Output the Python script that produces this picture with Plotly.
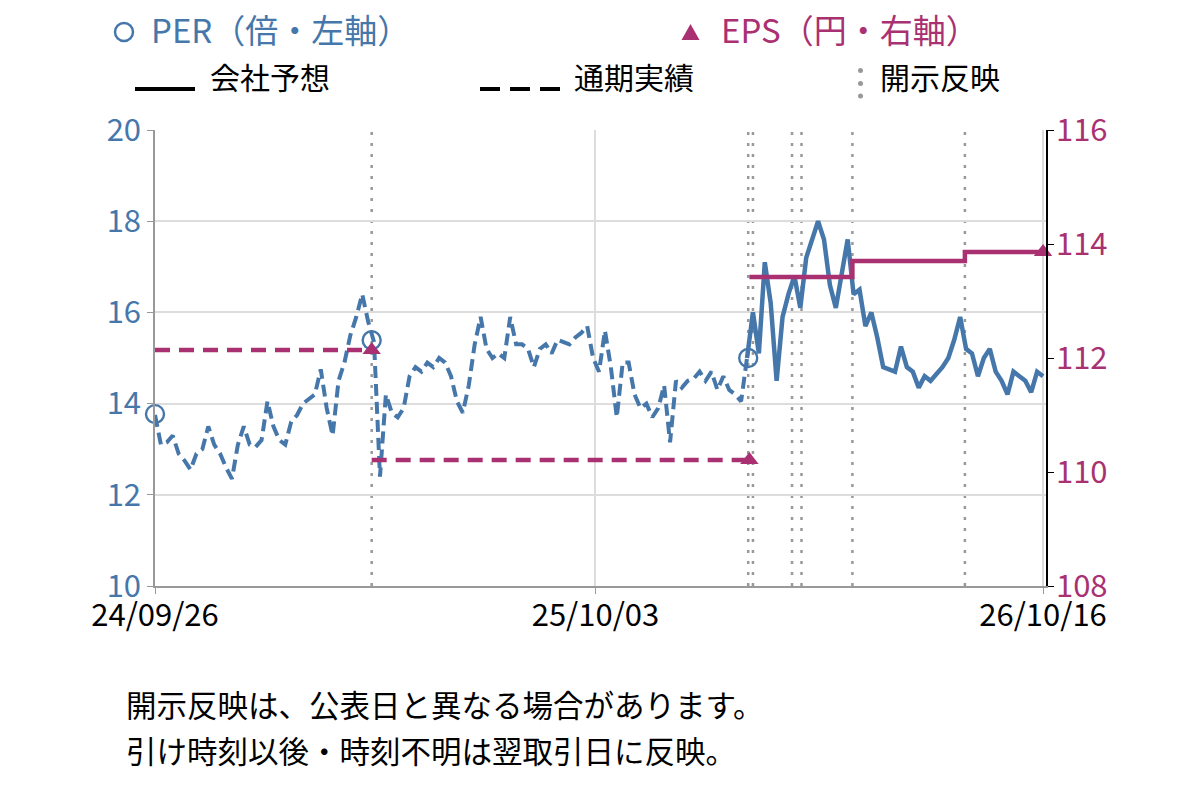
import plotly.graph_objects as go
import pandas as pd

# ---------------- data ----------------
START = "2024-09-26"
END = "2026-10-16"
per_dates = pd.date_range(START, END, freq="5D")
per_values = [
    13.75, 13.1, 13.15, 13.3, 12.9, 12.75, 12.55, 12.9, 13.0, 13.5,
    13.1, 12.9, 12.6, 12.35, 13.1, 13.5, 13.1, 13.05, 13.2, 14.05,
    13.5, 13.2, 13.1, 13.6, 13.75, 14.0, 14.1, 14.2, 14.75, 13.9,
    13.3, 14.5, 14.9, 15.5, 15.9, 16.4, 15.8, 15.35, 12.4, 14.2,
    13.8, 13.7, 13.9, 14.6, 14.8, 14.7, 14.9, 14.8, 15.0, 14.9,
    14.6, 14.05, 13.8, 14.4, 15.3, 15.9, 15.2, 15.0, 15.1, 15.0,
    15.9, 15.3, 15.3, 15.2, 14.8, 15.2, 15.3, 15.1, 15.4, 15.35,
    15.3, 15.45, 15.55, 15.7, 15.0, 14.7, 15.6, 14.8, 13.7, 14.9,
    14.9, 14.2, 13.9, 14.0, 13.7, 13.9, 14.4, 13.15, 14.5, 14.35,
    14.5, 14.55, 14.7, 14.5, 14.7, 14.3, 14.6, 14.3, 14.2, 14.05,
    15.0, 16.0, 15.1, 17.1, 16.2, 14.5, 15.9, 16.4, 16.8, 16.1,
    17.2, 17.6, 18.0, 17.6, 16.6, 16.1, 16.9, 17.6, 16.4, 16.5,
    15.7, 16.0, 15.45, 14.8, 14.75, 14.7, 15.25, 14.8, 14.7, 14.35,
    14.6, 14.5, 14.65, 14.8, 15.0, 15.4, 15.9, 15.2, 15.1, 14.6,
    15.0, 15.2, 14.7, 14.5, 14.2, 14.7, 14.6, 14.5, 14.25, 14.7,
    14.6,
]
SPLIT = 100  # PER based on actual EPS up to here (dashed), forecast after (solid)

eps_actual1_x = ["2024-09-26", "2025-03-28"]
eps_actual1_y = [112.14, 112.14]
eps_actual2_x = ["2025-03-28", "2026-02-10"]
eps_actual2_y = [110.21, 110.21]
eps_fcst_x = ["2026-02-10", "2026-05-08", "2026-08-11", "2026-10-16"]
eps_fcst_y = [113.42, 113.70, 113.86, 113.86]
eps_mark_x = ["2025-03-28", "2026-02-10", "2026-10-16"]
eps_mark_y = [112.14, 110.21, 113.86]
per_mark_x = ["2024-09-26", "2025-03-28", "2026-02-09"]
per_mark_y = [13.77, 15.39, 15.0]
disclosure_dates = ["2025-03-28", "2026-02-09", "2026-02-13", "2026-03-18",
                    "2026-03-26", "2026-05-08", "2026-08-11"]
xtick_vals = ["2024-09-26", "2025-10-03", "2026-10-16"]
xtick_text = ["24/09/26", "25/10/03", "26/10/16"]
X_END = "2026-10-18 12:00"

BLUE = "#4677AA"
MAG = "#A93172"
FONT = "Noto Sans CJK JP"

# ---------------- layout geometry ----------------
L, R, T, B = 155, 1046, 130, 586
W, H = 1200, 800


def px(x):
    return (x - L) / (R - L)


def py(y):
    return (B - y) / (B - T)


fig = go.Figure()

# PER line
fig.add_trace(go.Scatter(x=per_dates[:SPLIT + 1], y=per_values[:SPLIT + 1], mode="lines",
                         line=dict(color=BLUE, width=4, dash="12px,6px"),
                         showlegend=False, hoverinfo="skip"))
fig.add_trace(go.Scatter(x=per_dates[SPLIT:], y=per_values[SPLIT:], mode="lines",
                         line=dict(color=BLUE, width=4.5),
                         showlegend=False, hoverinfo="skip"))
fig.add_trace(go.Scatter(x=per_mark_x, y=per_mark_y, mode="markers",
                         marker=dict(symbol="circle-open", size=18, color=BLUE,
                                     line=dict(width=2.4, color=BLUE)),
                         cliponaxis=False, showlegend=False))

# EPS lines
fig.add_trace(go.Scatter(x=eps_actual1_x, y=eps_actual1_y, mode="lines", yaxis="y2",
                         line=dict(color=MAG, width=4.5, dash="15px,9px"), showlegend=False))
fig.add_trace(go.Scatter(x=eps_actual2_x, y=eps_actual2_y, mode="lines", yaxis="y2",
                         line=dict(color=MAG, width=4.5, dash="15px,9px"), showlegend=False))
fig.add_trace(go.Scatter(x=eps_fcst_x, y=eps_fcst_y, mode="lines", yaxis="y2",
                         line=dict(color=MAG, width=4.5, shape="hv"), showlegend=False))
fig.add_trace(go.Scatter(x=eps_mark_x, y=eps_mark_y, mode="markers", yaxis="y2",
                         marker=dict(symbol="triangle-up", size=16, color=MAG),
                         cliponaxis=False, showlegend=False))

shapes = []
for d in disclosure_dates:
    shapes.append(dict(type="line", xref="x", yref="paper", x0=d, x1=d, y0=0, y1=1,
                       line=dict(color="#999999", width=2.5, dash="3px,8px"), layer="below"))

# legend graphics
shapes.append(dict(type="circle", xref="paper", yref="paper",
                   x0=px(115), x1=px(133), y0=py(41), y1=py(23),
                   line=dict(color=BLUE, width=2.5)))
shapes.append(dict(type="path", xref="paper", yref="paper",
                   path=f"M {px(690.5)} {py(24)} L {px(699.5)} {py(40)} L {px(681.5)} {py(40)} Z",
                   fillcolor=MAG, line=dict(width=0)))
shapes.append(dict(type="line", xref="paper", yref="paper",
                   x0=px(135), x1=px(195), y0=py(89), y1=py(89),
                   line=dict(color="black", width=4)))
shapes.append(dict(type="line", xref="paper", yref="paper",
                   x0=px(480), x1=px(560), y0=py(89), y1=py(89),
                   line=dict(color="black", width=4, dash="20px,10px")))
for yy in [70.5, 83.5, 96]:
    shapes.append(dict(type="circle", xref="paper", yref="paper",
                       x0=px(858), x1=px(863), y0=py(yy + 2.5), y1=py(yy - 2.5),
                       fillcolor="#999999", line=dict(width=0)))

annotations = []


def txt(x, y, s, color="black", size=30):
    annotations.append(dict(xref="paper", yref="paper", x=px(x), y=py(y), text=s,
                            showarrow=False, xanchor="left", yanchor="middle",
                            font=dict(family=FONT, size=size, color=color)))


txt(149, 29, "PER（倍・左軸）", BLUE, 33)
txt(719, 29, "EPS（円・右軸）", MAG, 33)
txt(208, 76, "会社予想")
txt(572, 76, "通期実績")
txt(878, 76, "開示反映")
txt(124, 704, "開示反映は、公表日と異なる場合があります。", size=30.5)
txt(124, 750, "引け時刻以後・時刻不明は翌取引日に反映。", size=30.5)

fig.update_layout(
    width=W, height=H,
    margin=dict(l=L, r=W - R, t=T, b=H - B, pad=0),
    paper_bgcolor="white", plot_bgcolor="white",
    font=dict(family=FONT, size=30, color="black"),
    shapes=shapes, annotations=annotations,
    xaxis=dict(type="date", range=[START, X_END], tickvals=xtick_vals, ticktext=xtick_text,
               showgrid=True, gridcolor="#dddddd", gridwidth=1.5,
               showline=True, linecolor="#999999", linewidth=1.5,
               ticks="outside", ticklen=6, tickcolor="#999999",
               ticklabelstandoff=-5,
               tickfont=dict(family=FONT, size=31, color="black"), zeroline=False),
    yaxis=dict(range=[10, 20], dtick=2, showgrid=True, gridcolor="#dddddd", gridwidth=1.5,
               showline=True, linecolor="#999999", linewidth=1.5,
               ticks="outside", ticklen=6, tickcolor="#999999",
               tickfont=dict(family=FONT, size=31, color=BLUE), zeroline=False),
    yaxis2=dict(range=[108, 116], dtick=2, overlaying="y", side="right", showgrid=False,
                showline=True, linecolor="black", linewidth=1.5,
                ticks="outside", ticklen=6, tickcolor="black",
                ticklabelstandoff=-4,
                tickfont=dict(family=FONT, size=31, color=MAG), zeroline=False),
)

fig.write_html("out.html")
